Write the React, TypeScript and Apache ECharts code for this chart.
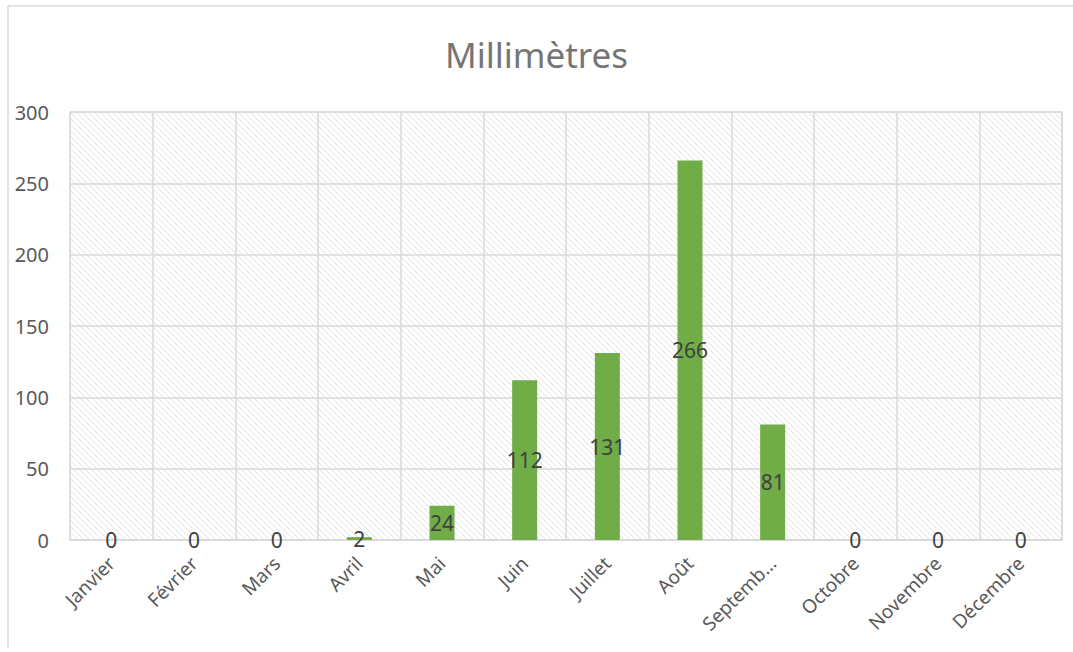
import React, { useEffect, useRef } from "react";
import * as echarts from "echarts";

const categories = ["Janvier", "Février", "Mars", "Avril", "Mai", "Juin", "Juillet", "Août", "Septembre", "Octobre", "Novembre", "Décembre"];
const values = [0, 0, 0, 2, 24, 112, 131, 266, 81, 0, 0, 0];
const yTicks = [0, 50, 100, 150, 200, 250, 300];
const title = "Millimètres";

function makeHatch() {
  const s = 6;
  const c = document.createElement("canvas");
  c.width = s;
  c.height = s;
  const ctx = c.getContext("2d")!;
  ctx.fillStyle = "#ffffff";
  ctx.fillRect(0, 0, s, s);
  ctx.strokeStyle = "#e0e0e0";
  ctx.lineWidth = 1;
  ctx.beginPath();
  ctx.moveTo(-1, -1);
  ctx.lineTo(s + 1, s + 1);
  ctx.moveTo(-1, s - 1);
  ctx.lineTo(1, s + 1);
  ctx.moveTo(s - 1, -1);
  ctx.lineTo(s + 1, 1);
  ctx.stroke();
  return c;
}

export default function App() {
  const ref = useRef<HTMLDivElement>(null);
  useEffect(() => {
    const chart = echarts.init(ref.current!, null, { renderer: "svg" });
    const font = "'Noto Sans', sans-serif";
    chart.setOption({
      animation: false,
      textStyle: { fontFamily: font },
      title: {
        text: title,
        left: "center",
        top: 32,
        textStyle: { fontFamily: font, fontSize: 35, fontWeight: "normal", color: "#757575" },
      },
      graphic: [
        { type: "line", shape: { x1: 8, y1: 6, x2: 1073, y2: 6 }, style: { stroke: "#d9d9d9", lineWidth: 1.5 } },
        { type: "line", shape: { x1: 8, y1: 6, x2: 8, y2: 648 }, style: { stroke: "#d9d9d9", lineWidth: 1.5 } },
      ],
      grid: {
        left: 70,
        right: 11,
        top: 112,
        bottom: 112,
        show: true,
        backgroundColor: { image: makeHatch(), repeat: "repeat" },
        borderColor: "#d9d9d9",
        borderWidth: 1,
      },
      xAxis: {
        type: "category",
        data: categories,
        axisLine: { show: true, lineStyle: { color: "#d9d9d9", width: 1.5 } },
        axisTick: { show: false },
        splitLine: { show: true, interval: 0, lineStyle: { color: "#d9d9d9", width: 1.5 } },
        axisLabel: {
          interval: 0,
          rotate: 45,
          fontSize: 19,
          color: "#595959",
          margin: 20,
          fontFamily: font,
          formatter: (v: string) => (v === "Septembre" ? "Septemb…" : v),
        },
      },
      yAxis: {
        type: "value",
        min: yTicks[0],
        max: yTicks[yTicks.length - 1],
        interval: 50,
        axisLine: { show: false },
        axisTick: { show: false },
        splitLine: { show: true, lineStyle: { color: "#d9d9d9", width: 1.5 } },
        axisLabel: { fontSize: 20, color: "#595959", margin: 21, fontFamily: font },
      },
      series: [
        {
          type: "bar",
          data: values,
          barWidth: 25,
          itemStyle: { color: "#70ad47" },
          label: {
            show: true,
            position: "inside",
            fontSize: 21,
            color: "#404040",
            fontFamily: font,
          },
        },
      ],
    });
    return () => chart.dispose();
  }, []);
  return <div ref={ref} style={{ position: "fixed", left: 0, top: 0, width: 1073, height: 652, background: "#fff" }} />;
}
